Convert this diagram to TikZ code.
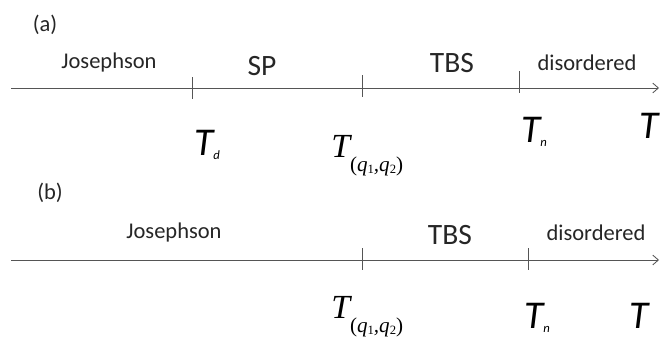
\documentclass[tikz,border=0pt]{standalone}
\usepackage{fontspec}
\setmainfont{Carlito}
\newfontfamily\tserif{Liberation Serif}
\usepackage{tikz}
\usetikzlibrary{arrows.meta}
\definecolor{axisgray}{RGB}{85,85,85}
\newcommand{\tsub}[1]{\raisebox{-3pt}{\fontsize{9}{9}\selectfont #1}}
\newcommand{\qsub}[1]{\raisebox{-2pt}{\fontsize{9}{9}\selectfont\upshape #1}}
\newcommand{\tqq}{{\fontsize{24}{24}\selectfont T}\raisebox{-10pt}{\fontsize{15}{15}\selectfont{\upshape(}q\qsub{1},q\qsub{2}{\upshape)}}}

\begin{document}
\begin{tikzpicture}[x=0.025cm,y=-0.025cm,
  lbl/.style={font=\fontsize{16}{18}\selectfont,text=black!85},
  big/.style={font=\fontsize{21}{24}\selectfont,text=black!85},
  temp/.style={anchor=base west,inner sep=0pt,font=\fontsize{28}{30}\selectfont\itshape},
  tq/.style={anchor=base west,inner sep=0pt,font=\tserif\itshape},
  axis/.style={draw=axisgray,line width=0.6pt,-{Straight Barb[length=4pt,width=7pt]}},
  tick/.style={draw=axisgray,line width=0.6pt}]
\useasboundingbox (0,0) rectangle (668,338);

% (a)
\node[lbl] (pa) at (45,25) {(a)};
\coordinate (a0) at (11,88);
\coordinate (a1) at (659,88);
\draw[axis] (a0) -- (a1);
\foreach \x/\u/\d [count=\i] in {192/-11/11,362/-13/9,519/-17/5}
  \draw[tick] (\x,88+\u) -- (\x,88+\d);
\node[lbl] (josa) at (109,62) {Josephson};
\node[big] (sp) at (262,66) {SP};
\node[big] (tbsa) at (452,63) {TBS};
\node[lbl] (disa) at (587,63) {disordered};
\node[temp] (td) at (194,155) {T\tsub{d}};
\node[tq] (tqa) at (331,157) {\tqq};
\node[temp] (tna) at (521,142) {T\tsub{n}};
\node[temp] (ta) at (639,138) {T};

% (b)
\node[lbl] (pb) at (50,193) {(b)};
\coordinate (b0) at (11,260);
\coordinate (b1) at (659,260);
\draw[axis] (b0) -- (b1);
\foreach \x/\u/\d [count=\i] in {362/-12/10,528/-12/10}
  \draw[tick] (\x,260+\u) -- (\x,260+\d);
\node[lbl] (josb) at (174,232) {Josephson};
\node[big] (tbsb) at (450,235) {TBS};
\node[lbl] (disb) at (596,233) {disordered};
\node[tq] (tqb) at (331,318) {\tqq};
\node[temp] (tnb) at (524,328) {T\tsub{n}};
\node[temp] (tb) at (629,328) {T};
\end{tikzpicture}
\end{document}
